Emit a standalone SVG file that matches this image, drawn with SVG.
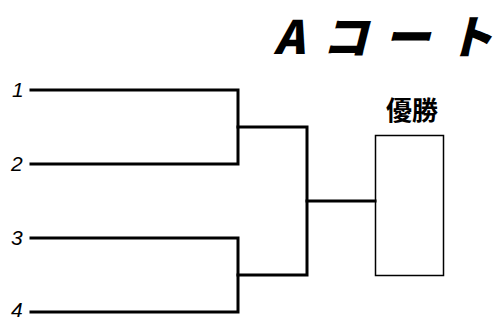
<svg xmlns="http://www.w3.org/2000/svg" width="502" height="320" viewBox="0 0 502 320">
<style>
.ln{stroke:#000;stroke-width:3;fill:none;stroke-linecap:square}
.num{font-family:"Liberation Sans","DejaVu Sans",sans-serif;font-style:italic;font-size:21px;fill:#000}
.title{font-family:"Noto Sans CJK JP","Liberation Sans",sans-serif;font-weight:900;font-style:italic;font-size:46px;fill:#000}
.win{font-family:"Noto Sans CJK JP",sans-serif;font-weight:700;font-size:26px;fill:#000}
</style>
<rect width="502" height="320" fill="#fff"/>
<g id="title"><text class="title" x="274 322 384 447" y="54">Aコート</text></g>
<g id="p1"><text class="num" x="12" y="97">1</text></g>
<g id="p2"><text class="num" x="11" y="171">2</text></g>
<g id="p3"><text class="num" x="11" y="245">3</text></g>
<g id="p4"><text class="num" x="11" y="317">4</text></g>
<g id="winner">
<text class="win" x="386" y="120">優勝</text>
<rect x="375.5" y="135.5" width="68" height="140" fill="#fff" stroke="#000" stroke-width="1.5"/>
</g>
<g id="connectors">
<path class="ln" d="M31 90H238V164H31"/>
<path class="ln" d="M31 238H238V312H31"/>
<path class="ln" d="M238 127H307V275H238"/>
<path class="ln" d="M307 201H375"/>
</g>
</svg>
